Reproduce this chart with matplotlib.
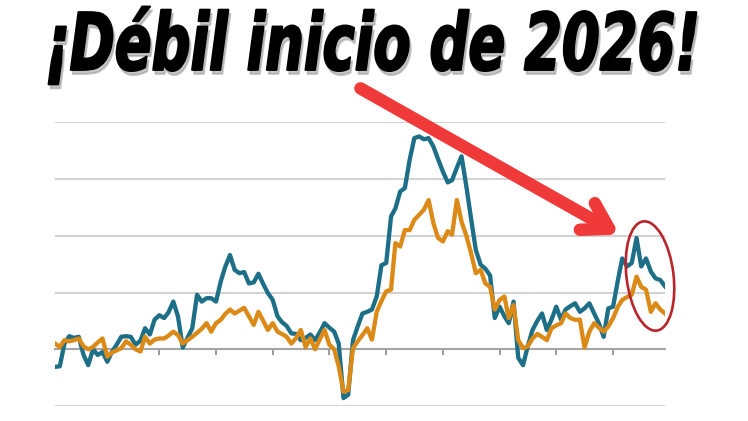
import matplotlib
matplotlib.use("Agg")
import matplotlib.pyplot as plt
import pandas as pd
from matplotlib.patches import Ellipse, FancyArrowPatch
from matplotlib.patheffects import AbstractPathEffect
from matplotlib.transforms import Affine2D

# monthly readings, Mar 2015 .. Dec 2025
start = "2015-03"
blue = [-0.31, -0.30, 0.10, 0.23, 0.20, 0.22, -0.10, -0.28, 0.00, -0.10,
        -0.05, -0.22, -0.05, 0.08, 0.22, 0.23, 0.22, 0.08, 0.15, 0.37,
        0.26, 0.52, 0.60, 0.55, 0.65, 0.84, 0.58, 0.03, 0.20, 0.37,
        0.96, 0.84, 0.90, 0.90, 0.84, 1.20, 1.45, 1.66, 1.40, 1.34,
        1.36, 1.16, 1.18, 1.33, 1.15, 0.99, 0.87, 0.58, 0.48, 0.41,
        0.28, 0.27, 0.16, 0.20, 0.26, 0.16, 0.30, 0.46, 0.38, 0.31,
        0.10, -0.86, -0.80, 0.16, 0.40, 0.63, 0.66, 0.70, 0.93, 1.48,
        1.52, 2.34, 2.48, 2.78, 2.84, 3.34, 3.72, 3.75, 3.70, 3.72,
        3.57, 3.35, 3.13, 2.94, 2.98, 3.20, 3.40, 2.87, 2.31, 1.75,
        1.49, 1.42, 1.30, 0.55, 0.75, 0.58, 0.46, 0.84, -0.15, -0.28,
        0.05, 0.34, 0.50, 0.63, 0.34, 0.52, 0.75, 0.52, 0.70, 0.76,
        0.81, 0.66, 0.72, 0.81, 0.63, 0.46, 0.22, 0.72, 0.75, 1.22,
        1.60, 1.46, 1.52, 1.96, 1.46, 1.60, 1.37, 1.25, 1.22, 1.11]
orange = [0.10, 0.04, 0.16, 0.14, 0.16, 0.19, 0.05, 0.00, 0.04, 0.12,
          0.19, -0.13, -0.06, -0.02, 0.02, 0.14, 0.08, 0.00, -0.04, 0.22,
          0.10, 0.17, 0.19, 0.19, 0.24, 0.31, 0.25, 0.10, 0.16, 0.22,
          0.29, 0.36, 0.46, 0.31, 0.46, 0.52, 0.62, 0.70, 0.63, 0.68,
          0.73, 0.58, 0.43, 0.66, 0.50, 0.34, 0.46, 0.31, 0.27, 0.22,
          0.10, 0.20, 0.34, 0.04, 0.19, 0.00, 0.18, 0.34, 0.08, 0.00,
          -0.30, -0.75, -0.72, 0.02, 0.14, 0.25, 0.37, 0.17, 0.66, 0.85,
          1.02, 1.05, 1.87, 1.81, 2.10, 2.10, 2.28, 2.37, 2.46, 2.63,
          2.22, 1.96, 1.90, 2.08, 2.02, 2.63, 2.25, 2.00, 1.70, 1.34,
          1.40, 1.16, 1.10, 0.70, 0.87, 0.93, 0.55, 0.78, 0.16, 0.02,
          0.05, 0.19, 0.27, 0.22, 0.16, 0.37, 0.42, 0.46, 0.63, 0.55,
          0.52, 0.52, 0.03, 0.31, 0.46, 0.38, 0.31, 0.40, 0.55, 0.75,
          0.87, 0.92, 0.96, 1.28, 1.10, 1.05, 0.66, 0.81, 0.70, 0.63]
grid_vals = [-1, 1, 2, 3, 4]
tick_years = list(range(2016, 2026))
title = "¡Débil inicio de 2026!"

dates = pd.date_range(start, periods=len(blue), freq="MS")


class Squeeze(AbstractPathEffect):
    """Stretch glyphs (no condensed heavy font installed), optional outline to fatten."""
    def __init__(self, sx, sy, offset=(0, 0), stroke=0.0):
        super().__init__(offset)
        self.sx, self.sy, self.stroke = sx, sy, stroke

    def draw_path(self, renderer, gc, tpath, affine, rgbFace=None):
        tr = Affine2D().scale(self.sx, self.sy) + affine + Affine2D().translate(*self._offset)
        gc0 = renderer.new_gc()
        gc0.copy_properties(gc)
        if self.stroke:
            gc0.set_linewidth(self.stroke)
            gc0.set_foreground(rgbFace)
            gc0.set_joinstyle("round")
        else:
            gc0.set_linewidth(0)
        renderer.draw_path(gc0, tpath, tr, rgbFace)
        gc0.restore()


fig = plt.figure(figsize=(7.48, 4.21), dpi=100)
ax = fig.add_axes([0.0735, 0.0356, 0.8155, 0.674])

for v in grid_vals:
    ax.axhline(v, color="#d3d3d3", lw=1.5, zorder=1)
ax.plot(dates, blue, color="#1d6e87", lw=3.1, zorder=3, solid_joinstyle="round")
ax.plot(dates, orange, color="#db8a17", lw=3.1, zorder=4, solid_joinstyle="round")

ax.set_xlim(dates[0], dates[-1])
ax.set_ylim(-1, 4)
ax.set_yticks([])
ax.set_xticks(pd.to_datetime([f"{y}-01-01" for y in tick_years]))
ax.set_xticklabels([])
ax.tick_params(axis="x", direction="out", length=4, width=1.2, color="#8a8a8a")
for s in ["top", "right", "left"]:
    ax.spines[s].set_visible(False)
ax.spines["bottom"].set_position(("data", 0))
ax.spines["bottom"].set_color("#a5a5a5")
ax.spines["bottom"].set_linewidth(1.5)
ax.spines["bottom"].set_zorder(2)

# title: heavy oblique, stretched to the shape of the original lettering
fs = 38
tkw = dict(fontsize=fs, fontweight="bold", style="italic", family="DejaVu Sans",
           ha="left", va="baseline")
probe = fig.text(0.06, 0.834, title, **tkw)
fig.canvas.draw()
w = probe.get_window_extent(renderer=fig.canvas.get_renderer()).width
probe.remove()
sx, sy = 655 / w, 57 / fs
fig.text(0.06, 0.834, title, color="#9a9a9a", alpha=0.55,
         path_effects=[Squeeze(sx, sy, offset=(2, -4), stroke=1.5)], **tkw)
fig.text(0.06, 0.834, title, color="black",
         path_effects=[Squeeze(sx, sy, stroke=1.5)], **tkw)

# red arrow and circled end
arrow = FancyArrowPatch((3.58, 3.34), (6.22, 1.85), transform=fig.dpi_scale_trans,
                        arrowstyle="->,head_length=18,head_width=11", lw=9,
                        color="#f03a3a", capstyle="round", joinstyle="round", zorder=6)
fig.add_artist(arrow)
ring = Ellipse((6.50, 1.45), 0.47, 1.10, angle=7, transform=fig.dpi_scale_trans,
               fill=False, edgecolor="#b8262c", lw=1.9, zorder=6)
fig.add_artist(ring)

fig.savefig("out.png", dpi=100, facecolor="white")
